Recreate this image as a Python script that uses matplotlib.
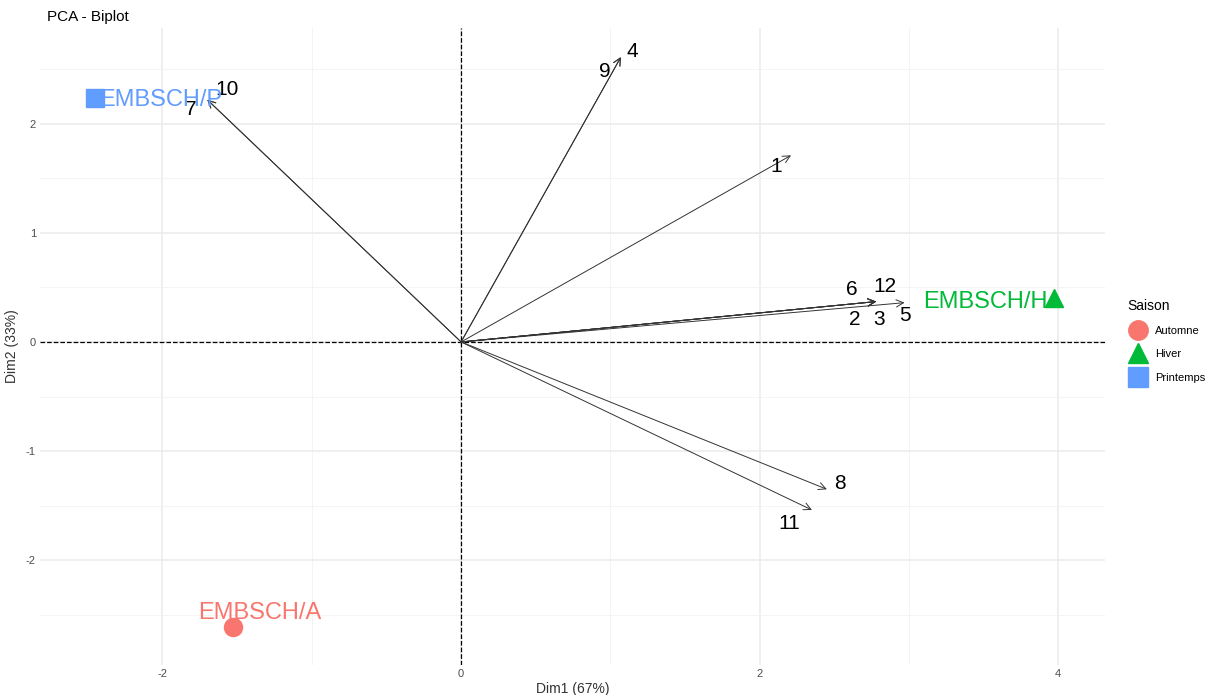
import matplotlib.pyplot as plt
from matplotlib.lines import Line2D

plt.rcParams['font.family'] = ['Liberation Sans', 'DejaVu Sans']
plt.rcParams['axes.unicode_minus'] = False

# individuals (scores)
ind_names = ['EMBSCH/A', 'EMBSCH/H', 'EMBSCH/P']
ind_x = [-1.53, 3.97, -2.45]
ind_y = [-2.61, 0.40, 2.24]
saisons = ['Automne', 'Hiver', 'Printemps']
colors = ['#F8766D', '#00BA38', '#619CFF']
markers = ['o', '^', 's']
ind_lab_x = [-1.35, 3.51, -2.01]
ind_lab_y = [-2.48, 0.37, 2.22]

# variables (loadings)
var_names = ['1', '2', '3', '4', '5', '6', '7', '8', '9', '10', '11', '12']
var_x = [2.21, 2.78, 2.78, 1.07, 2.97, 2.78, -1.70, 2.45, 1.07, -1.70, 2.35, 2.78]
var_y = [1.71, 0.37, 0.37, 2.61, 0.36, 0.37, 2.22, -1.35, 2.61, 2.22, -1.54, 0.37]
var_lab_x = [2.11, 2.64, 2.80, 1.15, 2.97, 2.615, -1.81, 2.535, 0.96, -1.565, 2.20, 2.836]
var_lab_y = [1.61, 0.21, 0.21, 2.66, 0.24, 0.477, 2.13, -1.30, 2.48, 2.31, -1.66, 0.505]

fig = plt.figure(figsize=(12.25, 6.95), dpi=100)
ax = fig.add_axes([0.0327, 0.0432, 0.869, 0.917])

ax.set_xlim(-2.82, 4.31)
ax.set_ylim(-2.96, 2.88)

# grid
for v in [-2, 0, 2, 4]:
    ax.axvline(v, color='#EBEBEB', lw=1.1, zorder=0)
for v in [-1, 1, 3]:
    ax.axvline(v, color='#F2F2F2', lw=0.6, zorder=0)
for v in [-2, -1, 0, 1, 2]:
    ax.axhline(v, color='#EBEBEB', lw=1.1, zorder=0)
for v in [-2.5, -1.5, -0.5, 0.5, 1.5, 2.5]:
    ax.axhline(v, color='#F2F2F2', lw=0.6, zorder=0)

ax.axhline(0, color='black', lw=0.9, ls='--', zorder=1)
ax.axvline(0, color='black', lw=0.9, ls='--', zorder=1)

# variable arrows
for i in range(len(var_names)):
    ax.annotate('', xy=(var_x[i], var_y[i]), xytext=(0, 0),
                arrowprops=dict(arrowstyle='->', color='#333333', lw=0.7,
                                shrinkA=0, shrinkB=0, mutation_scale=13),
                zorder=2)
    ax.text(var_lab_x[i], var_lab_y[i], var_names[i], fontsize=15,
            ha='center', va='center', color='black', zorder=4)

# individuals
for i in range(len(ind_names)):
    ax.plot(ind_x[i], ind_y[i], marker=markers[i], color=colors[i],
            markersize=13, ls='none', zorder=3)
    ax.text(ind_lab_x[i], ind_lab_y[i], ind_names[i], fontsize=17,
            ha='center', va='center', color=colors[i], zorder=4)

for s in ax.spines.values():
    s.set_visible(False)
ax.set_xticks([-2, 0, 2, 4])
ax.set_yticks([-2, -1, 0, 1, 2])
ax.tick_params(length=0, pad=3, labelcolor='#4D4D4D', labelsize=8)
ax.set_xlabel('Dim1 (67%)', fontsize=10, color='#333333', labelpad=2)
ax.set_ylabel('Dim2 (33%)', fontsize=10, color='#333333', labelpad=5)
fig.text(0.0385, 0.975, 'PCA - Biplot', fontsize=11, va='center', ha='left')

handles = [Line2D([], [], marker=markers[i], color=colors[i], ls='none',
                  markersize=14) for i in range(3)]
leg = fig.legend(handles, saisons, loc='center left', bbox_to_anchor=(0.912, 0.51),
                 frameon=False, fontsize=8, title='Saison', title_fontsize=10,
                 handletextpad=0.5, labelspacing=1.2)
leg._legend_box.align = 'left'

fig.savefig('out.png', dpi=100)
